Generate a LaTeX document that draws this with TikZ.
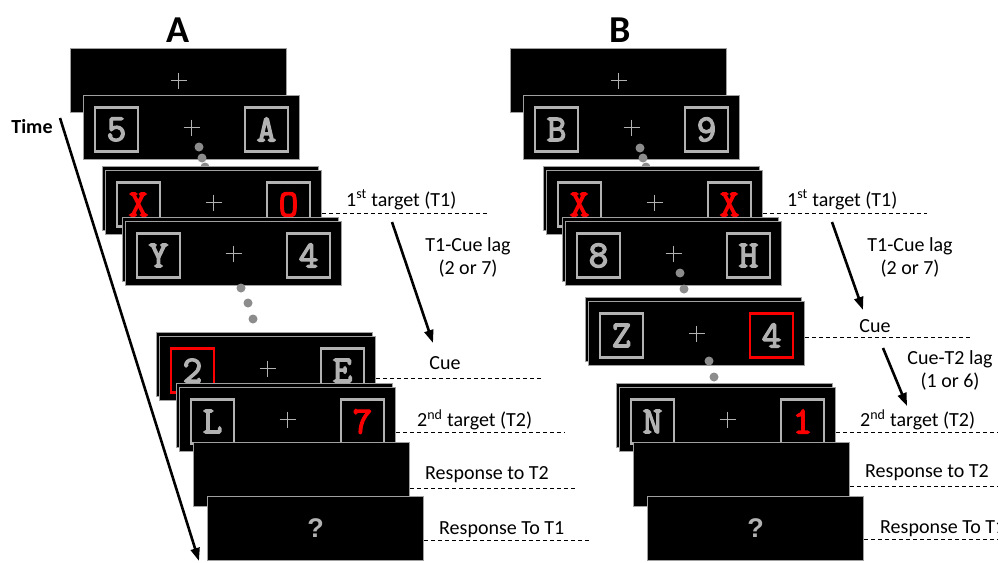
\documentclass[tikz,border=0pt]{standalone}
\usepackage{fontspec}
\setmainfont{Carlito}
\newfontfamily\qfont{Liberation Sans}
\newfontfamily\stimfont{Latin Modern Mono}[FakeBold=3.5]
\usetikzlibrary{calc,arrows.meta}
\definecolor{stimgray}{RGB}{178,178,178}
\definecolor{edgegray}{RGB}{160,160,160}
\definecolor{dotgray}{RGB}{140,140,140}
\definecolor{stimred}{RGB}{250,0,0}

\begin{document}
\begin{tikzpicture}[x=1pt,y=-1pt,
  screen/.style={draw=edgegray,fill=black,line width=1.2pt,minimum width=216,minimum height=64,inner sep=0pt},
  stim/.style={draw=stimgray,line width=2.8pt,minimum width=43,minimum height=44,inner sep=0pt,
    text=stimgray,font=\stimfont\bfseries\fontsize{38}{38}\selectfont},
  target/.style={text=stimred},
  cue/.style={draw=stimred},
  fixcross/.pic={\draw[stimgray,line width=1.1pt] (-8,0) -- (8,0) (0,-8) -- (0,8);},
  rsvpdot/.style={fill=dotgray},
  lbl/.style={font=\fontsize{20}{23}\selectfont,inner sep=0pt},
  tline/.style={dash pattern=on 4pt off 3pt,line width=0.9pt},
  lag/.style={-{Triangle[length=13pt,width=9pt]},line width=2.6pt}]

  \useasboundingbox (0,0) rectangle (998,562);

  \node[font=\bfseries\fontsize{38}{38}\selectfont] (ta) at (178,30) {A};
  \node[font=\bfseries\fontsize{38}{38}\selectfont] (tb) at (620,30) {B};
  \node[font=\bfseries\fontsize{20}{20}\selectfont] (time) at (32,127) {Time};
  \coordinate (t0) at (60,118);
  \coordinate (t1) at (199,561);
  \draw[-{Triangle[length=13pt,width=9pt]},line width=2.6pt] (t0) -- (t1);

  % panel A
  \node[screen] (a1) at (178.5,80.5) {};
  \pic at (a1) {fixcross};
  \node[screen] (a2) at (191.5,127.5) {};
  \pic at (a2) {fixcross};
  \node[stim] (a2l) at ($(a2)+(-75,2)$) {5};
  \node[stim] (a2r) at ($(a2)+(75,2)$) {A};
  \fill[rsvpdot] (199,147) circle (4.5pt) (202,158) circle (4.5pt) (205,167) circle (4.5pt);
  \node[screen] (a3b) at (210.5,198.5) {};
  \node[screen] (a3) at (213.5,202.5) {};
  \pic at (a3) {fixcross};
  \node[stim,target] (a3l) at ($(a3)+(-75,2)$) {X};
  \node[stim,target] (a3r) at ($(a3)+(75,2)$) {O};
  \node[screen] (a4b) at (230.5,249.5) {};
  \node[screen] (a4) at (233.5,253.5) {};
  \pic at (a4) {fixcross};
  \node[stim] (a4l) at ($(a4)+(-75,2)$) {Y};
  \node[stim] (a4r) at ($(a4)+(75,2)$) {4};
  \fill[rsvpdot] (241,288) circle (4.5pt) (248,303) circle (4.5pt) (253,319) circle (4.5pt);
  \node[screen] (a5b) at (264.5,364.5) {};
  \node[screen] (a5) at (267.5,368.5) {};
  \pic at (a5) {fixcross};
  \node[stim,cue] (a5l) at ($(a5)+(-75,2)$) {2};
  \node[stim] (a5r) at ($(a5)+(75,2)$) {E};
  \node[screen] (a6b) at (284.5,415.5) {};
  \node[screen] (a6) at (287.5,419.5) {};
  \pic at (a6) {fixcross};
  \node[stim] (a6l) at ($(a6)+(-75,2)$) {L};
  \node[stim,target] (a6r) at ($(a6)+(75,2)$) {7};
  \node[screen] (a7) at (301.5,474.5) {};
  \node[screen,text=stimgray,font=\qfont\bfseries\fontsize{27}{27}\selectfont] (a8) at (315.5,528.5) {?};

  \node[lbl,anchor=west] (a-t1) at (346,200) {1\textsuperscript{st} target (T1)};
  \draw[tline] (a3.east) ++(0,10.5) -- (487,213);
  \node[lbl,align=center] (a-lag) at (468,257) {T1-Cue lag\\(2 or 7)};
  \draw[lag] (392,222) -- (433,343);
  \node[lbl] (a-cue) at (445,363) {Cue};
  \draw[tline] (a5.east) ++(0,9.5) -- (543,378);
  \node[lbl,anchor=west] (a-t2) at (417,420) {2\textsuperscript{nd} target (T2)};
  \draw[tline] (a6.east) ++(0,12.5) -- (565,432);
  \node[lbl,anchor=west] (a-r2) at (425,475) {Response to T2};
  \draw[tline] (a7.east) ++(0,13.5) -- (577,488);
  \node[lbl,anchor=west] (a-r1) at (439,530) {Response To T1};
  \draw[tline] (a8.east) ++(0,11.5) -- (592,540);

  % panel B
  \node[screen] (b1) at (618.5,80.5) {};
  \pic at (b1) {fixcross};
  \node[screen] (b2) at (631.5,127.5) {};
  \pic at (b2) {fixcross};
  \node[stim] (b2l) at ($(b2)+(-75,2)$) {B};
  \node[stim] (b2r) at ($(b2)+(75,2)$) {9};
  \fill[rsvpdot] (640,148) circle (4.5pt) (643,158) circle (4.5pt) (646,167) circle (4.5pt);
  \node[screen] (b3b) at (651.5,198.5) {};
  \node[screen] (b3) at (654.5,202.5) {};
  \pic at (b3) {fixcross};
  \node[stim,target] (b3l) at ($(b3)+(-75,2)$) {X};
  \node[stim,target] (b3r) at ($(b3)+(75,2)$) {X};
  \node[screen] (b4b) at (670.5,249.5) {};
  \node[screen] (b4) at (673.5,253.5) {};
  \pic at (b4) {fixcross};
  \node[stim] (b4l) at ($(b4)+(-75,2)$) {8};
  \node[stim] (b4r) at ($(b4)+(75,2)$) {H};
  \fill[rsvpdot] (680,273) circle (4.5pt) (684,289) circle (4.5pt);
  \node[screen] (b5b) at (693.5,329.5) {};
  \node[screen] (b5) at (696.5,333.5) {};
  \pic at (b5) {fixcross};
  \node[stim] (b5l) at ($(b5)+(-75,2)$) {Z};
  \node[stim,cue] (b5r) at ($(b5)+(75,2)$) {4};
  \fill[rsvpdot] (709,361) circle (4.5pt) (714,377) circle (4.5pt);
  \node[screen] (b6b) at (724.5,415.5) {};
  \node[screen] (b6) at (727.5,419.5) {};
  \pic at (b6) {fixcross};
  \node[stim] (b6l) at ($(b6)+(-75,2)$) {N};
  \node[stim,target] (b6r) at ($(b6)+(75,2)$) {1};
  \node[screen] (b7) at (741.5,474.5) {};
  \node[screen,text=stimgray,font=\qfont\bfseries\fontsize{27}{27}\selectfont] (b8) at (755.5,528.5) {?};

  \node[lbl,anchor=west] (b-t1) at (787,200) {1\textsuperscript{st} target (T1)};
  \draw[tline] (b3.east) ++(0,10.5) -- (927,213);
  \node[lbl,align=center] (b-lag1) at (910,257) {T1-Cue lag\\(2 or 7)};
  \draw[lag] (832,222) -- (863,310);
  \node[lbl] (b-cue) at (875,326) {Cue};
  \draw[tline] (b5.east) ++(0,3.5) -- (973,337);
  \node[lbl,align=center] (b-lag2) at (950,370) {Cue-T2 lag\\(1 or 6)};
  \draw[lag] (883,348) -- (907,406);
  \node[lbl,anchor=west] (b-t2) at (860,420) {2\textsuperscript{nd} target (T2)};
  \draw[tline] (b6.east) ++(0,12.5) -- (998,432);
  \node[lbl,anchor=west] (b-r2) at (865,473) {Response to T2};
  \draw[tline] (b7.east) ++(0,11.5) -- (998,486);
  \node[lbl,anchor=west] (b-r1) at (880,529) {Response To T1};
  \draw[tline] (b8.east) ++(0,10.5) -- (998,539);
\end{tikzpicture}
\end{document}
